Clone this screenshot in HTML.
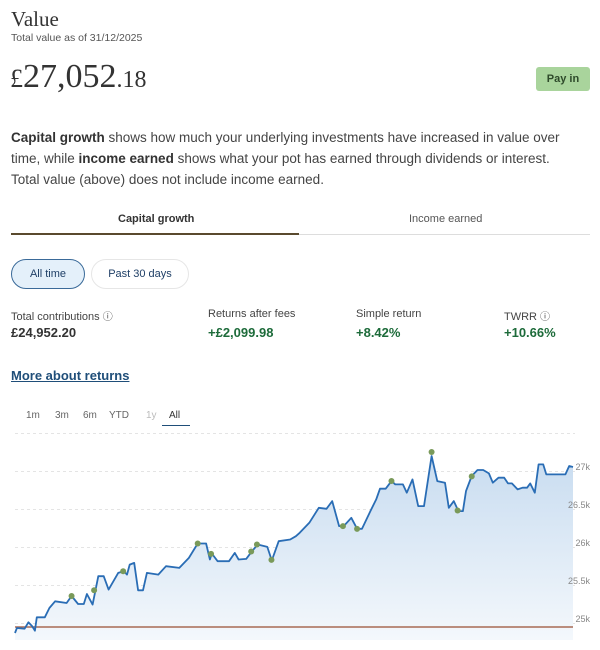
<!DOCTYPE html>
<html><head><meta charset="utf-8"><style>
body{margin:0;width:600px;height:650px;background:#fff;font-family:"Liberation Sans",sans-serif;color:#333;position:relative;overflow:hidden}
.a{position:absolute;white-space:nowrap}
.serif{font-family:"Liberation Serif",serif}
.pill{position:absolute;height:28px;border-radius:15px;font-size:11px;line-height:28px;text-align:center;color:#1f3f66}
.lab{font-size:11px;color:#444}
.val{font-size:13px;font-weight:bold}
.g{color:#1d6b3a}
.r{font-size:10px;color:#666}
</style></head><body>
<div class="a serif" style="left:11px;top:7px;font-size:21px;color:#333">Value</div>
<div class="a" style="left:11px;top:32px;font-size:10.5px;color:#555">Total value as of 31/12/2025</div>
<div class="a serif" style="left:10px;top:58px;font-size:34px;color:#333"><span style="font-size:26px">£</span>27,052<span style="font-size:24px">.18</span></div>
<div class="a" style="left:536px;top:67px;width:54px;height:24px;background:#a9d49c;border-radius:3px;font-size:11px;font-weight:bold;line-height:24px;text-align:center;color:#2e4a2a">Pay in</div>
<div class="a" style="left:11px;top:127px;font-size:13.5px;line-height:21px;color:#444"><b style="color:#333">Capital growth</b> shows how much your underlying investments have increased in value over<br>time, while <b style="color:#333">income earned</b> shows what your pot has earned through dividends or interest.<br>Total value (above) does not include income earned.</div>
<div class="a" style="left:118px;top:213px;font-size:11px;font-weight:bold;color:#333">Capital growth</div>
<div class="a" style="left:409px;top:213px;font-size:11px;color:#555">Income earned</div>
<div class="a" style="left:11px;top:233px;width:288px;height:2px;background:#5a4a2e"></div>
<div class="a" style="left:299px;top:234px;width:291px;height:1px;background:#ddd"></div>
<div class="pill" style="left:11px;top:259px;width:72px;background:#e4f0fa;border:1px solid #3a6a99">All time</div>
<div class="pill" style="left:91px;top:259px;width:96px;border:1px solid #e6e6e6">Past 30 days</div>
<div class="a lab" style="left:11px;top:308px">Total contributions <span style="font-size:10px">ⓘ</span></div>
<div class="a val" style="left:11px;top:325px;color:#333">£24,952.20</div>
<div class="a lab" style="left:208px;top:308px">Returns after fees</div>
<div class="a val g" style="left:208px;top:325px">+£2,099.98</div>
<div class="a lab" style="left:356px;top:308px">Simple return</div>
<div class="a val g" style="left:356px;top:325px">+8.42%</div>
<div class="a lab" style="left:504px;top:308px">TWRR <span style="font-size:10px">ⓘ</span></div>
<div class="a val g" style="left:504px;top:325px">+10.66%</div>
<div class="a" style="left:11px;top:368px;font-size:13px;font-weight:bold;color:#1f4e79;text-decoration:underline">More about returns</div>
<div class="a r" style="left:26px;top:410px">1m</div>
<div class="a r" style="left:55px;top:410px">3m</div>
<div class="a r" style="left:83px;top:410px">6m</div>
<div class="a r" style="left:109px;top:410px">YTD</div>
<div class="a r" style="left:146px;top:410px;color:#bbb">1y</div>
<div class="a r" style="left:169px;top:410px;color:#333">All</div>
<div class="a" style="left:162px;top:425px;width:28px;height:1px;background:#1f4e79"></div>
<svg class="a" style="left:0;top:0" width="600" height="650">
<defs><linearGradient id="gr" x1="0" y1="0" x2="0" y2="1"><stop offset="0" stop-color="#c8dcf0"/><stop offset="1" stop-color="#f4f8fc"/></linearGradient></defs>
<g stroke="#e4e4e4" stroke-dasharray="3,3" stroke-width="1">
<line x1="15" x2="575" y1="433.5" y2="433.5"/><line x1="15" x2="575" y1="471.5" y2="471.5"/><line x1="15" x2="575" y1="509.5" y2="509.5"/><line x1="15" x2="575" y1="547.5" y2="547.5"/><line x1="15" x2="575" y1="585.5" y2="585.5"/><line x1="15" x2="575" y1="623.5" y2="623.5"/></g>
<path id="area" fill="url(#gr)" stroke="none"/>
<g font-size="9" fill="#888" font-family="Liberation Sans,sans-serif" text-anchor="end">
<text x="590" y="470">27k</text><text x="590" y="508">26.5k</text><text x="590" y="546">26k</text><text x="590" y="584">25.5k</text><text x="590" y="622">25k</text></g>
<line x1="15" x2="573" y1="627" y2="627" stroke="#a86a55" stroke-width="1.5"/>
<path id="ln" fill="none" stroke="#2a6db5" stroke-width="1.8" stroke-linejoin="round"/>
<g id="dots" fill="#7a9a5a"></g>
</svg>
<script>
var z=[[40,610],[45,595],[65,597],[75,578],[85,590],[92,603],[97,563],[118,563],[130,535],[145,515],[175,520],[188,499],[205,523],[220,523],[228,493],[243,525],[258,440],[272,440],[285,480],[310,430],[325,425],[333,435],[340,405],[352,400],[362,482],[375,482],[385,430],[398,432],[415,435],[435,410],[470,415],[495,385],[518,342],[540,342],[550,390],[555,372],[570,395],[600,395],[615,370],[625,390],[645,388],[660,365],[675,345],[700,352],[712,393],[730,335],[760,330],[775,320],[785,310],[810,280],[835,235],[855,238],[870,215],[888,290],[900,290],[920,265],[935,298],[948,298],[970,245],[985,210],[995,178],[1010,178],[1025,155],[1035,165],[1055,165],[1065,190],[1080,150],[1095,230],[1110,230],[1130,80],[1145,155],[1165,160],[1175,235],[1188,215],[1200,245],[1212,245],[1220,185],[1235,140],[1250,122],[1265,122],[1280,132],[1290,160],[1305,145],[1320,145],[1330,162],[1340,162],[1355,180],[1368,175],[1380,175],[1388,162],[1400,190],[1410,105],[1422,105],[1430,135],[1450,135],[1480,135],[1490,110],[1500,113]];
function X(x){return 15+(x-40)*0.3822}function Y(y){return 452+(y-68)*0.334}
var d=z.map(function(p,i){return(i?'L':'M')+X(p[0]).toFixed(1)+' '+Y(p[1]).toFixed(1)}).join('');
document.getElementById('ln').setAttribute('d',d);
document.getElementById('area').setAttribute('d',d+'L'+X(1500)+' 640L15 640Z');
var dots=[[188,499],[247,482],[323,425],[518,342],[553,373],[658,366],[673,345],[711,391],[898,290],[935,298],[1025,155],[1130,68],[1198,243],[1235,141]];
var g=document.getElementById('dots'),s='';
dots.forEach(function(p){s+='<circle cx="'+X(p[0])+'" cy="'+Y(p[1])+'" r="3"/>'});g.innerHTML=s;
</script>
</body></html>
